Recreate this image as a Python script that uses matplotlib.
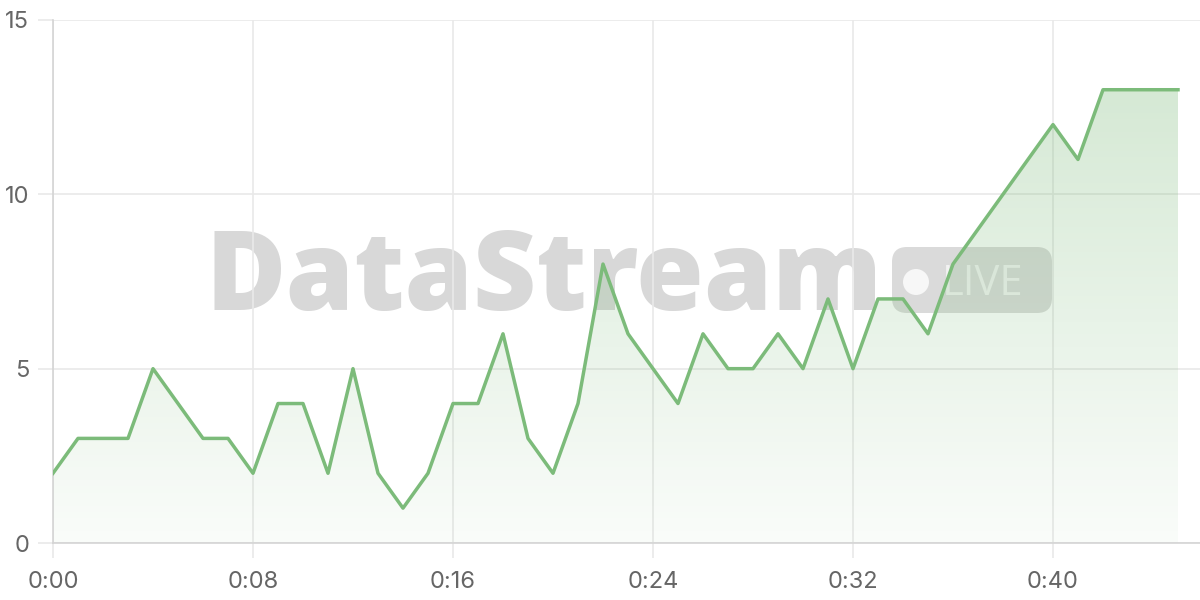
import numpy as np
import matplotlib
matplotlib.use("Agg")
import matplotlib.pyplot as plt
from matplotlib.patches import FancyBboxPatch, Polygon, Ellipse

# values, one per step
minutes = list(range(46))
values = [2, 3, 3, 3, 5, 4, 3, 3, 2, 4, 4, 2, 5, 2, 1, 2, 4, 4, 6, 3,
          2, 4, 8, 6, 5, 4, 6, 5, 5, 6, 5, 7, 5, 7, 7, 6, 8, 9, 10, 11,
          12, 11, 13, 13, 13, 13]
xticks = [0, 8, 16, 24, 32, 40]
xticklabels = ["0:00", "0:08", "0:16", "0:24", "0:32", "0:40"]
yticks = [0, 5, 10, 15]

plt.rcParams['font.family'] = ['Inter', 'DejaVu Sans']

fig = plt.figure(figsize=(12, 6), dpi=100)
ax = fig.add_axes([53/1200, 57/600, 1147/1200, 523/600])
ax.set_xlim(0, 45.88)
ax.set_ylim(0, 15)
ax.patch.set_alpha(0)

# watermark behind the axes (figure coords, negative zorder)
fig.text(206/1200, 1 - 310/600, "DataStream", family='Open Sans',
         fontsize=79, fontweight='heavy', color='#d8d8d8', ha='left',
         va='baseline', zorder=-2)
badge = FancyBboxPatch((892/1200, 1 - 313/600), 160/1200, 66/600,
                       transform=fig.transFigure,
                       boxstyle="round,pad=0,rounding_size=0.0125",
                       facecolor='#dadada', edgecolor='none', zorder=-2,
                       mutation_aspect=2)
fig.patches.append(badge)
fig.patches.append(Ellipse((916/1200, 1 - 282/600), 26/1200, 26/600,
                           transform=fig.transFigure, facecolor='#f7f7f7',
                           edgecolor='none', zorder=-1))
fig.text(942/1200, 1 - 295/600, "LIVE", family='Open Sans', fontsize=30,
         color='#f2f2f2', ha='left', va='baseline', zorder=-1)

# gradient fill under the line
grad = np.linspace(0.04, 0.32, 256).reshape(-1, 1)
rgba = np.zeros((256, 1, 4))
rgba[..., 0] = 0.49
rgba[..., 1] = 0.73
rgba[..., 2] = 0.48
rgba[..., 3] = grad
img = ax.imshow(rgba, extent=[0, 45, 0, max(values)], origin='lower',
                aspect='auto', zorder=2)
verts = [(0, 0)] + list(zip(minutes, values)) + [(minutes[-1], 0)]
clip = Polygon(verts, closed=True, transform=ax.transData,
               facecolor='none', edgecolor='none')
ax.add_patch(clip)
img.set_clip_path(clip)

ax.plot(minutes, values, color='#7cbb7a', lw=2.5, zorder=3)

ax.set_xticks(xticks)
ax.set_xticklabels(xticklabels)
ax.set_yticks(yticks)
ax.grid(True, color='#e9e9e9', lw=1.2, zorder=0)
ax.set_axisbelow(True)
for s in ['top', 'right']:
    ax.spines[s].set_visible(False)
for s in ['left', 'bottom']:
    ax.spines[s].set_color('#d4d4d4')
    ax.spines[s].set_linewidth(1.2)
ax.tick_params(axis='both', colors='#e9e9e9', labelcolor='#666666',
               labelsize=17, length=11, width=1.2)
ax.tick_params(axis='x', pad=9)
ax.tick_params(axis='y', pad=6)

fig.savefig("out.png", dpi=100)
